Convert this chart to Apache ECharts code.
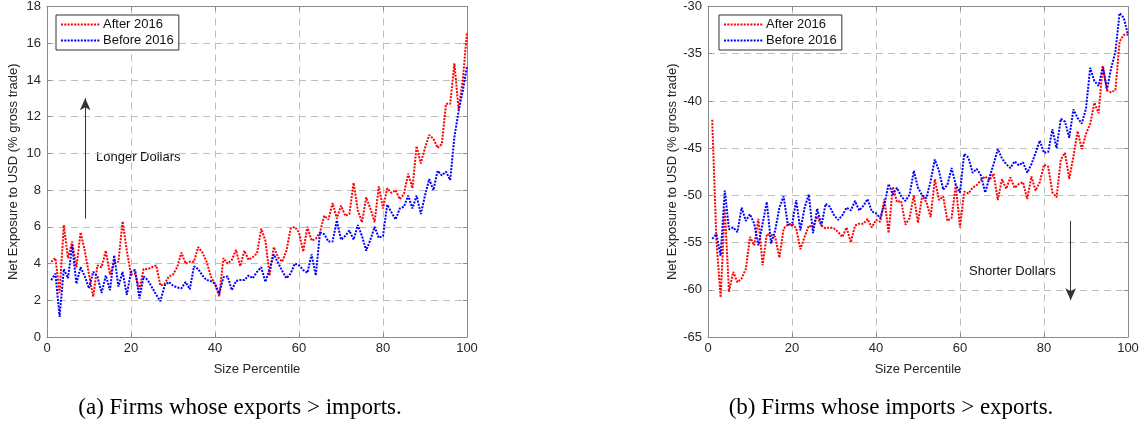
<!DOCTYPE html>
<html>
<head>
<meta charset="utf-8">
<script src="https://cdn.jsdelivr.net/npm/echarts@6/dist/echarts.min.js"></script>
<style>
  html, body { margin: 0; padding: 0; background: #fff; }
  #chart { width: 1145px; height: 432px; }
</style>
</head>
<body>
<div id="chart"></div>
<script>
// percentiles 1..100
var pct = [];
for (var i = 1; i <= 100; i++) pct.push(i);

// (a) exporters
var exAfter = [4.1, 4.3, 2.4, 6.1, 4.3, 5.2, 3.8, 5.7, 4.7, 3.4,
  2.2, 3.9, 3.8, 4.7, 3.4, 4.1, 4.1, 6.3, 4.7, 3.4,
  3.45, 2.6, 3.7, 3.7, 3.8, 3.9, 2.8, 2.9, 3.3, 3.4,
  3.8, 4.6, 4.0, 4.1, 4.1, 4.9, 4.6, 4.1, 3.3, 2.9,
  2.2, 4.3, 4.0, 4.2, 4.75, 3.85, 4.7, 4.2, 4.35, 4.55,
  5.9, 5.25, 3.35, 4.9, 4.35, 4.1, 4.7, 5.9, 6.0, 5.7,
  4.65, 6.0, 5.25, 5.35, 5.7, 6.6, 6.4, 7.3, 6.45, 7.15,
  6.6, 6.7, 8.4, 6.9, 6.25, 7.6, 7.0, 6.25, 8.2, 7.0,
  8.1, 7.85, 8.0, 7.5, 7.8, 8.9, 8.1, 10.4, 9.45, 10.3,
  11.0, 10.8, 10.3, 10.5, 12.7, 12.7, 14.9, 12.4, 14.0, 16.6];
var exBefore = [3.1, 3.45, 1.1, 3.7, 3.2, 5.0, 2.9, 3.8, 3.3, 2.65,
  3.55, 3.3, 2.4, 3.35, 2.55, 4.45, 2.75, 3.55, 2.3, 3.55,
  3.65, 2.1, 3.3, 3.1, 2.7, 2.3, 1.95, 2.8, 3.0, 2.8,
  2.7, 2.65, 3.0, 2.6, 3.85, 3.7, 3.35, 3.1, 3.05, 2.9,
  2.35, 3.25, 3.3, 2.55, 3.05, 3.1, 3.1, 3.35, 3.2, 3.55,
  3.8, 3.0, 3.7, 4.5, 4.05, 3.6, 3.2, 3.45, 4.0, 3.9,
  3.65, 3.5, 4.5, 3.35, 5.7, 5.6, 5.2, 5.2, 6.35, 5.3,
  5.5, 5.8, 5.3, 6.1, 5.5, 4.7, 5.3, 6.0, 5.4, 5.5,
  7.2, 6.8, 6.4, 7.0, 7.1, 7.7, 7.0, 7.7, 6.7, 7.7,
  8.6, 8.0, 9.05, 8.8, 9.0, 8.55, 10.9, 12.3, 13.4, 14.75];

// (b) importers
var imAfter = [-42.0, -54.8, -60.8, -51.4, -60.2, -58.1, -59.2, -58.8, -57.8, -54.4,
  -55.3, -52.5, -57.4, -54.1, -54.2, -54.4, -56.6, -53.5, -53.1, -53.0,
  -53.5, -55.7, -54.4, -53.2, -53.4, -52.2, -53.2, -53.5, -53.4, -53.5,
  -53.9, -54.4, -53.4, -55.0, -53.2, -53.0, -53.0, -52.5, -53.4, -52.6,
  -52.8, -50.4, -54.0, -49.1, -50.7, -50.6, -53.1, -52.4, -50.0, -52.9,
  -50.0, -50.7, -52.3, -48.3, -50.5, -50.1, -52.7, -52.4, -48.9, -53.4,
  -49.6, -49.8, -49.2, -48.9, -48.4, -48.0, -48.4, -47.7, -50.5, -48.3,
  -49.3, -48.1, -49.2, -48.8, -48.6, -50.4, -48.0, -49.5, -48.6, -46.75,
  -46.95, -49.7, -50.2, -46.2, -45.5, -48.25, -45.9, -43.2, -45.1, -43.5,
  -42.4, -40.2, -41.3, -36.3, -38.9, -39.1, -38.85, -33.7, -33.0, -33.0];
var imBefore = [-54.6, -54.1, -56.4, -49.5, -53.6, -53.4, -53.9, -51.3, -52.7, -52.0,
  -53.0, -55.3, -53.0, -50.7, -55.1, -53.7, -51.3, -50.1, -53.1, -53.2,
  -50.5, -53.7, -51.3, -49.9, -54.0, -51.4, -53.2, -50.9, -51.2, -52.1,
  -52.6, -52.1, -51.3, -51.6, -50.6, -51.6, -51.1, -50.4, -51.7, -51.9,
  -52.4, -51.0, -48.8, -49.9, -49.2, -50.1, -50.6, -49.9, -47.4, -49.2,
  -50.0, -50.3, -48.5, -46.2, -47.4, -49.4, -48.9, -47.1, -48.9, -49.7,
  -45.6, -46.0, -47.6, -47.2, -47.9, -49.7, -48.1, -46.7, -45.1, -46.1,
  -46.7, -47.1, -46.4, -46.8, -46.5, -47.6, -46.7, -45.5, -44.2, -45.5,
  -45.4, -43.0, -45.0, -41.9, -42.2, -43.9, -40.9, -41.8, -42.4, -40.8,
  -36.5, -37.9, -38.4, -36.4, -38.8, -36.5, -34.8, -30.7, -31.2, -33.0];

var pairs = function (vals) {
  return vals.map(function (v, k) { return [pct[k], v]; });
};

var txt = '#262626';
var box = '#8a8a8a';
var font = 'Liberation Sans';

function xAx(gi, pos) {
  var main = pos === 'bottom';
  return {
    type: 'value', gridIndex: gi, position: pos, min: 0, max: 100, interval: 20,
    name: main ? 'Size Percentile' : '', nameLocation: 'middle', nameGap: 26,
    nameTextStyle: { color: txt, fontSize: 13, fontFamily: font },
    axisLine: { show: true, onZero: false, lineStyle: { color: box, width: 1 } },
    axisTick: { show: true, inside: true, length: 4, lineStyle: { color: box } },
    axisLabel: { show: main, color: txt, fontSize: 13, fontFamily: font, margin: 5 },
    splitLine: { show: main, lineStyle: { color: '#bdbdbd', type: [7, 5] } }
  };
}
function yAx(gi, pos, mn, mx, step) {
  var main = pos === 'left';
  return {
    type: 'value', gridIndex: gi, position: pos, min: mn, max: mx, interval: step,
    name: main ? 'Net Exposure to USD (% gross trade)' : '', nameLocation: 'middle', nameGap: 27,
    nameTextStyle: { color: txt, fontSize: 13, fontFamily: font },
    axisLine: { show: true, onZero: false, lineStyle: { color: box, width: 1 } },
    axisTick: { show: true, inside: true, length: 4, lineStyle: { color: box } },
    axisLabel: { show: main, color: txt, fontSize: 13, fontFamily: font, margin: 6 },
    splitLine: { show: main, lineStyle: { color: '#bdbdbd', type: [7, 5] } }
  };
}

function line(name, color, gi, vals, extra) {
  var s = {
    name: name, type: 'line', xAxisIndex: gi * 2, yAxisIndex: gi * 2,
    data: pairs(vals), symbol: 'none', smooth: false,
    lineStyle: { color: color, width: 2, type: [2, 1.3] },
    itemStyle: { color: color },
    z: 3, animation: false
  };
  if (extra) s.markLine = extra;
  return s;
}

function arrow(x, y0, y1) {
  return {
    silent: true, animation: false,
    symbol: ['none', 'arrow'], symbolSize: [8, 12],
    label: { show: false },
    lineStyle: { color: '#333', width: 1, type: 'solid' },
    data: [[{ coord: [x, y0] }, { coord: [x, y1] }]]
  };
}

function legend(left) {
  return {
    data: ['After 2016', 'Before 2016'], orient: 'vertical', left: left, top: 15,
    padding: [3, 5, 3, 4], itemGap: 3, itemWidth: 39, itemHeight: 12,
    borderColor: '#333', borderWidth: 1, backgroundColor: '#fff',
    itemStyle: { opacity: 0 },
    textStyle: { color: '#111', fontSize: 13, fontFamily: font, padding: [0, 0, 0, -2] }
  };
}

var chart = echarts.init(document.getElementById('chart'), null, { renderer: 'canvas' });
chart.setOption({
  backgroundColor: '#fff',
  animation: false,
  grid: [
    { left: 47, top: 5, width: 420, height: 332 },
    { left: 708, top: 5, width: 420, height: 332 }
  ],
  xAxis: [xAx(0, 'bottom'), xAx(0, 'top'), xAx(1, 'bottom'), xAx(1, 'top')],
  yAxis: [yAx(0, 'left', 0, 18, 2), yAx(0, 'right', 0, 18, 2),
          yAx(1, 'left', -65, -30, 5), yAx(1, 'right', -65, -30, 5)],
  legend: [legend(56), legend(719)],
  series: [
    line('After 2016', '#ff0000', 0, exAfter, arrow(9.1, 6.45, 13.0)),
    line('Before 2016', '#0000ff', 0, exBefore),
    line('After 2016', '#ff0000', 1, imAfter, arrow(86.35, -52.7, -61.1)),
    line('Before 2016', '#0000ff', 1, imBefore)
  ],
  graphic: [
    { type: 'text', left: 96, top: 151, style: { text: 'Longer Dollars', fill: '#111', fontSize: 13, fontFamily: font } },
    { type: 'text', left: 969, top: 265, style: { text: 'Shorter Dollars', fill: '#111', fontSize: 13, fontFamily: font } },
    { type: 'text', x: 240, y: 408, style: { text: '(a) Firms whose exports > imports.', fill: '#000', fontSize: 23, fontFamily: 'Liberation Serif', align: 'center', verticalAlign: 'middle' } },
    { type: 'text', x: 891, y: 408, style: { text: '(b) Firms whose imports > exports.', fill: '#000', fontSize: 23, fontFamily: 'Liberation Serif', align: 'center', verticalAlign: 'middle' } }
  ]
});
</script>
</body>
</html>
